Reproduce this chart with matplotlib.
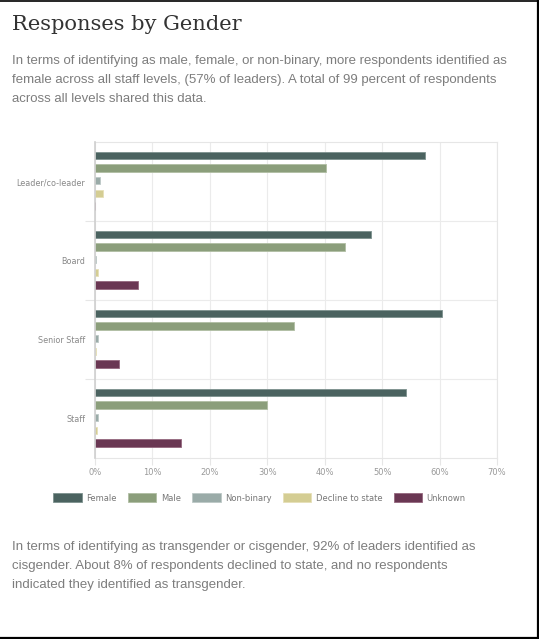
import numpy as np
import matplotlib
matplotlib.use("Agg")
import matplotlib.pyplot as plt
from matplotlib.patches import Patch
from matplotlib.lines import Line2D

# chart data (percent of respondents)
levels = ["Leader/co-leader", "Board", "Senior Staff", "Staff"]
genders = ["Female", "Male", "Non-binary", "Decline to state", "Unknown"]
female = [57.4, 48.1, 60.5, 54.2]
male = [40.3, 43.5, 34.6, 29.9]
non_binary = [0.8, 0.1, 0.6, 0.5]
decline = [1.4, 0.6, 0.1, 0.4]
unknown = [0.0, 7.5, 4.1, 14.9]
xticks = [0, 10, 20, 30, 40, 50, 60, 70]

colors = ["#4b6360", "#8b9e7b", "#9aaba8", "#d4cd93", "#6a3753"]
edges = ["#7d918e", "#b0bea3", "#bdc9c7", "#e6e0b8", "#94687f"]

title = "Responses by Gender"
intro = [
    "In terms of identifying as male, female, or non-binary, more respondents identified as",
    "female across all staff levels, (57% of leaders). A total of 99 percent of respondents",
    "across all levels shared this data.",
]
outro = [
    "In terms of identifying as transgender or cisgender, 92% of leaders identified as",
    "cisgender. About 8% of respondents declined to state, and no respondents",
    "indicated they identified as transgender.",
]

W, H = 539, 639
fig = plt.figure(figsize=(W / 100, H / 100), dpi=100)
fig.patch.set_facecolor("white")

def fx(px):
    return px / W

def fy(py):
    return 1 - py / H

# frame lines at top, right and bottom
fig.add_artist(Line2D([0, 1], [fy(0.5), fy(0.5)], color="black", lw=1.2))
fig.add_artist(Line2D([fx(538), fx(538)], [0, 1], color="black", lw=1.6))
fig.add_artist(Line2D([0, 1], [fy(638), fy(638)], color="black", lw=1.6))

fig.text(fx(12), fy(29.5), title, fontsize=15.1, family="DejaVu Serif",
         color="#333333", va="baseline", ha="left")
for i, line in enumerate(intro):
    fig.text(fx(12), fy(64 + 19 * i), line, fontsize=9.5, family="Liberation Sans",
             color="#7d7d7d", va="baseline", ha="left")
for i, line in enumerate(outro):
    fig.text(fx(12), fy(550 + 19 * i), line, fontsize=9.5, family="Liberation Sans",
             color="#7d7d7d", va="baseline", ha="left")

ax = fig.add_axes([fx(95), fy(458), fx(497) - fx(95), (458 - 142) / H])

series = [female, male, non_binary, decline, unknown]
y = np.arange(len(levels))
step = 0.16
bh = 0.093
for j, vals in enumerate(series):
    ax.barh(y + (j - 2) * step - 0.01, vals, height=bh, color=colors[j],
            edgecolor=edges[j], linewidth=0.6, label=genders[j], zorder=3)

ax.set_xlim(0, 70)
ax.set_ylim(3.5, -0.5)
ax.set_xticks(xticks)
ax.set_xticklabels([f"{t}%" for t in xticks])
ax.set_yticks(y)
ax.set_yticklabels(levels)
ax.set_yticks([0.5, 1.5, 2.5], minor=True)

ax.tick_params(axis="x", length=5, width=0.8, color="#e6e6e6", labelsize=6,
               labelcolor="#999999", pad=2)
ax.tick_params(axis="y", which="major", length=0, labelsize=5.8,
               labelcolor="#888888", pad=7)
ax.tick_params(axis="y", which="minor", length=7, width=0.8, color="#e6e6e6")

ax.grid(axis="x", color="#ebebeb", lw=0.8, zorder=0)
ax.grid(axis="y", which="minor", color="#ebebeb", lw=0.8, zorder=0)
for s in ["top", "right", "bottom"]:
    ax.spines[s].set_color("#e6e6e6")
    ax.spines[s].set_linewidth(0.8)
ax.spines["left"].set_color("#cfcfcf")
ax.spines["left"].set_linewidth(1.2)
ax.spines["left"].set_zorder(4)

handles = [Patch(facecolor=colors[j], edgecolor=edges[j], linewidth=0.6)
           for j in range(len(genders))]
fig.legend(handles, genders, loc="center", bbox_to_anchor=(fx(259.5), fy(498)),
           ncol=5, frameon=False, fontsize=6, handlelength=3.4, handleheight=1.2,
           handletextpad=0.5, columnspacing=1.4, labelcolor="#777777")

fig.savefig("out.png", dpi=100, facecolor="white")
